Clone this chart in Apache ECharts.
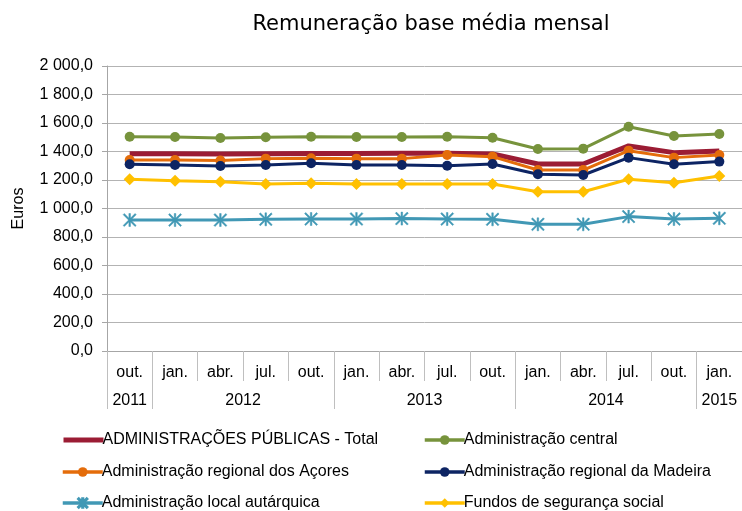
<!DOCTYPE html>
<html>
<head>
<meta charset="utf-8">
<script src="https://cdn.jsdelivr.net/npm/echarts@6/dist/echarts.min.js"></script>
<style>html,body{margin:0;padding:0;background:#fff}#c{width:742px;height:511px}</style>
</head>
<body>
<div id="c"></div>
<script>
// ---- data ----
var months = ['out.','jan.','abr.','jul.','out.','jan.','abr.','jul.','out.','jan.','abr.','jul.','out.','jan.'];
var years  = ['2011','2012','2012','2012','2012','2013','2013','2013','2013','2014','2014','2014','2014','2015'];
var total   = [1384,1384,1383,1385,1386,1386,1387,1387,1383,1312,1312,1439,1392,1404];
var central = [1504,1502,1495,1500,1503,1502,1502,1504,1497,1418,1420,1574,1509,1523];
var acores  = [1340,1340,1336,1350,1352,1350,1350,1376,1364,1270,1270,1406,1357,1376];
var madeira = [1310,1305,1298,1305,1317,1305,1305,1300,1312,1240,1235,1357,1310,1329];
var local   = [919,919,919,924,926,926,929,926,924,889,889,943,926,931];
var fundos  = [1205,1195,1188,1172,1177,1172,1172,1172,1172,1118,1118,1205,1181,1228];
var seriesNames = ['ADMINISTRAÇÕES PÚBLICAS - Total','Administração central','Administração regional dos Açores','Administração regional da Madeira','Administração local autárquica','Fundos de segurança social'];

// ---- derived ----
var cats = months.map(function(m,i){return years[i]+' '+m;});
var groups = [];
years.forEach(function(y,i){
  var g = groups.length ? groups[groups.length-1] : null;
  if (g && g.year === y) g.last = i; else groups.push({year:y, first:i, last:i});
});
var yearCenters = groups.map(function(g){return (g.first+g.last)/2;});
var yearBounds = groups.map(function(g){return g.first-0.5;}).concat([years.length-0.5]);

function fmtNum(v){
  var s;
  if (v >= 1000) { var r = String(v % 1000); while (r.length<3) r='0'+r; s = Math.floor(v/1000)+' '+r; }
  else s = String(v);
  return s + ',0';
}
var FONT = 'Liberation Sans, Arial, sans-serif';
var grey = '#a6a6a6';
var asterisk = 'path://M4.4 0 L5.6 0 L5.6 10 L4.4 10 Z M0 0.85 L0.85 0 L10 9.15 L9.15 10 Z M9.15 0 L10 0.85 L0.85 10 L0 9.15 Z';

// legend layout: two columns x three rows
var legendCols = [61, 423];
var legendRows = [432, 464, 495];
var legends = seriesNames.map(function(name, k){
  var isTotal = (k === 0);
  return {
    data: [isTotal ? {name: name, itemStyle: {opacity: 0}} : name],
    left: legendCols[k % 2], top: legendRows[Math.floor(k / 2)],
    padding: 0, itemWidth: 40, itemHeight: 12,
    lineStyle: {width: isTotal ? 5 : 3.5},
    textStyle: {fontFamily: FONT, fontSize: 16, color: '#000', padding: [0,0,0,-6]}
  };
});

var chart = echarts.init(document.getElementById('c'));
chart.setOption({
  animation: false,
  backgroundColor: '#fff',
  title: {
    text: 'Remuneração base média mensal',
    left: 426, top: 9, textAlign: 'center',
    textStyle: {fontFamily: 'DejaVu Sans, sans-serif', fontSize: 21, fontWeight: 'normal', color: '#000'}
  },
  legend: legends,
  grid: {left: 107, right: 0, top: 66, bottom: 160, containLabel: false},
  xAxis: [{
    type: 'category', data: cats, boundaryGap: true, position: 'bottom',
    axisLine: {lineStyle: {color: grey, width: 1}},
    axisTick: {show: true, interval: 0, length: 30, lineStyle: {color: '#bfbfbf'}},
    axisLabel: {interval: 0, margin: 14, fontFamily: FONT, fontSize: 16, color: '#000',
      formatter: function(v, i){ return months[i]; }},
    splitLine: {show: false}
  },{
    type: 'value', min: -0.5, max: years.length - 0.5, position: 'bottom', offset: 0,
    axisLine: {show: false},
    axisTick: {show: true, customValues: yearBounds, length: 58, lineStyle: {color: '#bfbfbf'}},
    axisLabel: {customValues: yearCenters, margin: 42, fontFamily: FONT, fontSize: 16, color: '#000',
      formatter: function(v){ var k = yearCenters.indexOf(v); return k >= 0 ? groups[k].year : ''; }},
    splitLine: {show: false}
  }],
  yAxis: {
    type: 'value', min: 0, max: 2000, interval: 200,
    name: 'Euros', nameLocation: 'middle', nameRotate: 90, nameGap: 80,
    nameTextStyle: {fontFamily: FONT, fontSize: 16, color: '#000'},
    axisLine: {show: true, onZero: false, lineStyle: {color: grey}},
    axisTick: {show: true, length: 5, lineStyle: {color: grey}},
    axisLabel: {margin: 14, fontFamily: FONT, fontSize: 16, color: '#000', formatter: fmtNum},
    splitLine: {lineStyle: {color: '#b3b3b3', width: 1}}
  },
  series: [
    {name: seriesNames[0], type: 'line', data: total, symbol: 'none', xAxisIndex: 0,
     lineStyle: {width: 5, color: '#9b1c34'}, itemStyle: {color: '#9b1c34'}},
    {name: seriesNames[1], type: 'line', data: central, symbol: 'circle', symbolSize: 10, xAxisIndex: 0,
     lineStyle: {width: 3, color: '#77933c'}, itemStyle: {color: '#77933c'}},
    {name: seriesNames[2], type: 'line', data: acores, symbol: 'circle', symbolSize: 10, xAxisIndex: 0,
     lineStyle: {width: 3, color: '#e46c0a'}, itemStyle: {color: '#e46c0a'}},
    {name: seriesNames[3], type: 'line', data: madeira, symbol: 'circle', symbolSize: 10, xAxisIndex: 0,
     lineStyle: {width: 3, color: '#0d2463'}, itemStyle: {color: '#0d2463'}},
    {name: seriesNames[4], type: 'line', data: local, symbol: asterisk, symbolSize: 13, xAxisIndex: 0,
     lineStyle: {width: 3, color: '#4198b5'}, itemStyle: {color: '#4198b5', borderColor: '#4198b5', borderWidth: 0.5}},
    {name: seriesNames[5], type: 'line', data: fundos, symbol: 'diamond', symbolSize: 12, xAxisIndex: 0,
     lineStyle: {width: 3, color: '#ffc000'}, itemStyle: {color: '#ffc000'}}
  ]
});
</script>
</body>
</html>
